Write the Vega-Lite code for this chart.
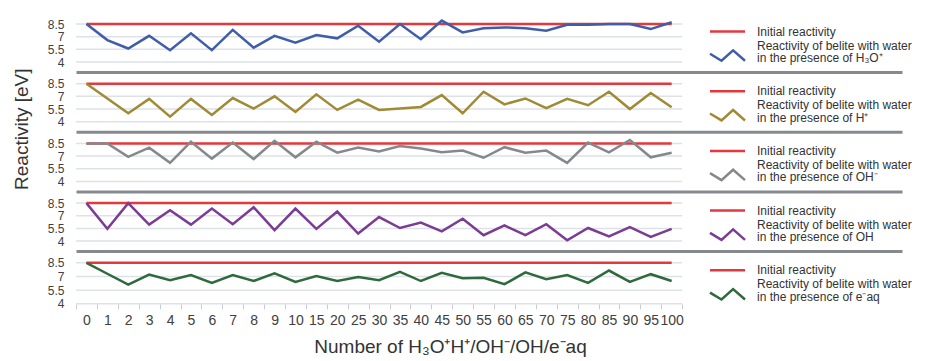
{
"$schema": "https://vega.github.io/schema/vega-lite/v6.json",
"padding": {"top": 15, "left": 12, "right": 0, "bottom": 0},
"background": "white",
"config": {
  "font": "Liberation Sans",
  "view": {"stroke": null},
  "line": {"strokeWidth": 2.5},
  "style": {"guide-label": {"lineHeight": 12.5}},
  "axisX": {"labels": false, "ticks": false, "domain": true, "domainColor": "#868a8f", "domainWidth": 3, "offset": 10, "grid": false},
  "axisY": {"grid": false, "domain": false, "ticks": false, "labelFontSize": 12, "labelColor": "#404040", "labelPadding": 12, "labelOverlap": false, "labelBound": false, "format": ".1~f"},
  "legend": {"symbolSize": 144, "symbolStrokeWidth": 3, "symbolOpacity": 1, "symbolType": "M-2.92,0L2.92,0", "symbolOffset": 10, "labelFontSize": 12, "labelLimit": 400, "rowPadding": 0, "padding": 0, "labelOffset": 22, "labelColor": "#333333"}
},
"resolve": {"scale": {"color": "independent", "shape": "independent"}, "legend": {"color": "independent", "shape": "independent"}},
"datasets": {
  "grid": [{"x":"0","o":"a","v":4},{"x":"100","o":"b","v":4},{"x":"0","o":"a","v":5.5},{"x":"100","o":"b","v":5.5},{"x":"0","o":"a","v":7},{"x":"100","o":"b","v":7},{"x":"0","o":"a","v":8.5},{"x":"100","o":"b","v":8.5}],
  "h3o": [
    {"x":"0","v":8.5,"s":"Initial reactivity"},{"x":"100","v":8.5,"s":"Initial reactivity"},
    {"x":"0","v":8.5,"s":"H₃O⁺"},{"x":"1","v":6.6,"s":"H₃O⁺"},{"x":"2","v":5.6,"s":"H₃O⁺"},{"x":"3","v":7.1,"s":"H₃O⁺"},{"x":"4","v":5.4,"s":"H₃O⁺"},{"x":"5","v":7.4,"s":"H₃O⁺"},{"x":"6","v":5.4,"s":"H₃O⁺"},{"x":"7","v":7.8,"s":"H₃O⁺"},{"x":"8","v":5.7,"s":"H₃O⁺"},{"x":"9","v":7.1,"s":"H₃O⁺"},{"x":"10","v":6.3,"s":"H₃O⁺"},{"x":"15","v":7.2,"s":"H₃O⁺"},{"x":"20","v":6.8,"s":"H₃O⁺"},{"x":"25","v":8.3,"s":"H₃O⁺"},{"x":"30","v":6.4,"s":"H₃O⁺"},{"x":"35","v":8.5,"s":"H₃O⁺"},{"x":"40","v":6.7,"s":"H₃O⁺"},{"x":"45","v":8.9,"s":"H₃O⁺"},{"x":"50","v":7.5,"s":"H₃O⁺"},{"x":"55","v":8.0,"s":"H₃O⁺"},{"x":"60","v":8.1,"s":"H₃O⁺"},{"x":"65","v":8.0,"s":"H₃O⁺"},{"x":"70","v":7.7,"s":"H₃O⁺"},{"x":"75","v":8.4,"s":"H₃O⁺"},{"x":"80","v":8.4,"s":"H₃O⁺"},{"x":"85","v":8.5,"s":"H₃O⁺"},{"x":"90","v":8.5,"s":"H₃O⁺"},{"x":"95","v":7.9,"s":"H₃O⁺"},{"x":"100","v":8.7,"s":"H₃O⁺"}
  ],
  "h": [
    {"x":"0","v":8.5,"s":"Initial reactivity"},{"x":"100","v":8.5,"s":"Initial reactivity"},
    {"x":"0","v":8.5,"s":"H⁺"},{"x":"1","v":6.75,"s":"H⁺"},{"x":"2","v":5.0,"s":"H⁺"},{"x":"3","v":6.7,"s":"H⁺"},{"x":"4","v":4.6,"s":"H⁺"},{"x":"5","v":6.7,"s":"H⁺"},{"x":"6","v":4.8,"s":"H⁺"},{"x":"7","v":6.8,"s":"H⁺"},{"x":"8","v":5.55,"s":"H⁺"},{"x":"9","v":7.0,"s":"H⁺"},{"x":"10","v":5.15,"s":"H⁺"},{"x":"15","v":7.25,"s":"H⁺"},{"x":"20","v":5.4,"s":"H⁺"},{"x":"25","v":6.6,"s":"H⁺"},{"x":"30","v":5.4,"s":"H⁺"},{"x":"35","v":5.55,"s":"H⁺"},{"x":"40","v":5.75,"s":"H⁺"},{"x":"45","v":7.15,"s":"H⁺"},{"x":"50","v":5.0,"s":"H⁺"},{"x":"55","v":7.55,"s":"H⁺"},{"x":"60","v":6.05,"s":"H⁺"},{"x":"65","v":6.75,"s":"H⁺"},{"x":"70","v":5.6,"s":"H⁺"},{"x":"75","v":6.7,"s":"H⁺"},{"x":"80","v":5.95,"s":"H⁺"},{"x":"85","v":7.55,"s":"H⁺"},{"x":"90","v":5.5,"s":"H⁺"},{"x":"95","v":7.4,"s":"H⁺"},{"x":"100","v":5.7,"s":"H⁺"}
  ],
  "ohm": [
    {"x":"0","v":8.5,"s":"Initial reactivity"},{"x":"100","v":8.5,"s":"Initial reactivity"},
    {"x":"0","v":8.5,"s":"OH⁻"},{"x":"1","v":8.5,"s":"OH⁻"},{"x":"2","v":6.9,"s":"OH⁻"},{"x":"3","v":8.0,"s":"OH⁻"},{"x":"4","v":6.2,"s":"OH⁻"},{"x":"5","v":8.7,"s":"OH⁻"},{"x":"6","v":6.7,"s":"OH⁻"},{"x":"7","v":8.6,"s":"OH⁻"},{"x":"8","v":6.65,"s":"OH⁻"},{"x":"9","v":8.8,"s":"OH⁻"},{"x":"10","v":6.85,"s":"OH⁻"},{"x":"15","v":8.7,"s":"OH⁻"},{"x":"20","v":7.4,"s":"OH⁻"},{"x":"25","v":8.0,"s":"OH⁻"},{"x":"30","v":7.55,"s":"OH⁻"},{"x":"35","v":8.2,"s":"OH⁻"},{"x":"40","v":7.9,"s":"OH⁻"},{"x":"45","v":7.45,"s":"OH⁻"},{"x":"50","v":7.65,"s":"OH⁻"},{"x":"55","v":6.8,"s":"OH⁻"},{"x":"60","v":8.05,"s":"OH⁻"},{"x":"65","v":7.4,"s":"OH⁻"},{"x":"70","v":7.65,"s":"OH⁻"},{"x":"75","v":6.2,"s":"OH⁻"},{"x":"80","v":8.6,"s":"OH⁻"},{"x":"85","v":7.45,"s":"OH⁻"},{"x":"90","v":8.9,"s":"OH⁻"},{"x":"95","v":6.85,"s":"OH⁻"},{"x":"100","v":7.4,"s":"OH⁻"}
  ],
  "oh": [
    {"x":"0","v":8.5,"s":"Initial reactivity"},{"x":"100","v":8.5,"s":"Initial reactivity"},
    {"x":"0","v":8.5,"s":"OH"},{"x":"1","v":5.45,"s":"OH"},{"x":"2","v":8.5,"s":"OH"},{"x":"3","v":5.95,"s":"OH"},{"x":"4","v":7.65,"s":"OH"},{"x":"5","v":5.95,"s":"OH"},{"x":"6","v":7.85,"s":"OH"},{"x":"7","v":6.0,"s":"OH"},{"x":"8","v":8.0,"s":"OH"},{"x":"9","v":5.3,"s":"OH"},{"x":"10","v":7.85,"s":"OH"},{"x":"15","v":5.45,"s":"OH"},{"x":"20","v":7.5,"s":"OH"},{"x":"25","v":4.9,"s":"OH"},{"x":"30","v":6.85,"s":"OH"},{"x":"35","v":5.55,"s":"OH"},{"x":"40","v":6.2,"s":"OH"},{"x":"45","v":5.15,"s":"OH"},{"x":"50","v":6.65,"s":"OH"},{"x":"55","v":4.7,"s":"OH"},{"x":"60","v":5.85,"s":"OH"},{"x":"65","v":4.7,"s":"OH"},{"x":"70","v":6.0,"s":"OH"},{"x":"75","v":4.1,"s":"OH"},{"x":"80","v":5.55,"s":"OH"},{"x":"85","v":4.55,"s":"OH"},{"x":"90","v":5.65,"s":"OH"},{"x":"95","v":4.5,"s":"OH"},{"x":"100","v":5.45,"s":"OH"}
  ],
  "eaq": [
    {"x":"0","v":8.5,"s":"Initial reactivity"},{"x":"100","v":8.5,"s":"Initial reactivity"},
    {"x":"0","v":8.5,"s":"e⁻aq"},{"x":"1","v":7.3,"s":"e⁻aq"},{"x":"2","v":6.1,"s":"e⁻aq"},{"x":"3","v":7.2,"s":"e⁻aq"},{"x":"4","v":6.6,"s":"e⁻aq"},{"x":"5","v":7.15,"s":"e⁻aq"},{"x":"6","v":6.3,"s":"e⁻aq"},{"x":"7","v":7.15,"s":"e⁻aq"},{"x":"8","v":6.5,"s":"e⁻aq"},{"x":"9","v":7.35,"s":"e⁻aq"},{"x":"10","v":6.4,"s":"e⁻aq"},{"x":"15","v":7.05,"s":"e⁻aq"},{"x":"20","v":6.5,"s":"e⁻aq"},{"x":"25","v":6.95,"s":"e⁻aq"},{"x":"30","v":6.6,"s":"e⁻aq"},{"x":"35","v":7.5,"s":"e⁻aq"},{"x":"40","v":6.5,"s":"e⁻aq"},{"x":"45","v":7.4,"s":"e⁻aq"},{"x":"50","v":6.8,"s":"e⁻aq"},{"x":"55","v":6.85,"s":"e⁻aq"},{"x":"60","v":6.15,"s":"e⁻aq"},{"x":"65","v":7.45,"s":"e⁻aq"},{"x":"70","v":6.7,"s":"e⁻aq"},{"x":"75","v":7.15,"s":"e⁻aq"},{"x":"80","v":6.3,"s":"e⁻aq"},{"x":"85","v":7.65,"s":"e⁻aq"},{"x":"90","v":6.4,"s":"e⁻aq"},{"x":"95","v":7.25,"s":"e⁻aq"},{"x":"100","v":6.5,"s":"e⁻aq"}
  ]
},
"vconcat": [
  {
    "width": 826, "height": 38,
    "encoding": {
      "x": {"field": "x", "type": "ordinal", "bandPosition": 0.5, "title": null, "scale": {"type": "band", "domain": ["0","1","2","3","4","5","6","7","8","9","10","15","20","25","30","35","40","45","50","55","60","65","70","75","80","85","90","95","100","_a","_b","_c","_d","_e","_f","_g","_h","_i","_j"], "paddingInner": 0, "paddingOuter": 0.26, "align": 0, "round": false}},
      "y": {"field": "v", "type": "quantitative", "title": null, "scale": {"domain": [4, 8.5], "nice": false, "zero": false}, "axis": {"values": [4, 5.5, 7, 8.5]}}
    },
    "layer": [
      {"data": {"name": "grid"}, "mark": {"type": "line", "color": "#dde2e7", "strokeWidth": 1.5},
       "encoding": {"x": {"field": "x", "type": "ordinal", "bandPosition": 0, "title": null, "scale": {"type": "band", "domain": ["0","1","2","3","4","5","6","7","8","9","10","15","20","25","30","35","40","45","50","55","60","65","70","75","80","85","90","95","100","_a","_b","_c","_d","_e","_f","_g","_h","_i","_j"], "paddingInner": 0, "paddingOuter": 0.26, "align": 0, "round": false}},
         "xOffset": {"field": "o", "type": "nominal", "scale": {"type": "point", "padding": 0, "domain": ["a", "b"]}},
         "detail": {"field": "v", "type": "quantitative"}}},
      {"data": {"name": "h3o"}, "transform": [{"filter": "datum.s === 'Initial reactivity'"}], "mark": "line",
       "encoding": {"color": {"field": "s", "type": "nominal", "scale": {"domain": ["Initial reactivity", "H₃O⁺"], "range": ["#e3383d", "#3f5da9"]}}}},
      {"data": {"name": "h3o"}, "transform": [{"filter": "datum.s !== 'Initial reactivity'"}], "mark": "line",
       "encoding": {"color": {"field": "s", "type": "nominal", "scale": {"domain": ["Initial reactivity", "H₃O⁺"], "range": ["#e3383d", "#3f5da9"]}}}},
      {"data": {"name": "h3o"}, "mark": {"type": "point", "opacity": 0, "filled": false},
       "encoding": {
         "color": {"field": "s", "type": "nominal", "scale": {"domain": ["Initial reactivity", "H₃O⁺"], "range": ["#e3383d", "#3f5da9"]},
           "legend": {"title": null, "orient": "none", "legendX": 634, "legendY": 0, "labelExpr": "datum.value === 'Initial reactivity' ? 'Initial reactivity' : ['Reactivity of belite with water', 'in the presence of ' + datum.value]"}},
         "shape": {"field": "s", "type": "nominal", "scale": {"domain": ["Initial reactivity", "H₃O⁺"], "range": ["M-2.92,0L2.92,0", "M-2.92,1.38L-1,2.54L0.93,0.8L2.92,2.54"]},
           "legend": {"title": null, "orient": "none", "legendX": 634, "legendY": 0, "labelExpr": "datum.value === 'Initial reactivity' ? 'Initial reactivity' : ['Reactivity of belite with water', 'in the presence of ' + datum.value]"}}}}
    ]
  },
  {
    "width": 826, "height": 38,
    "encoding": {
      "x": {"field": "x", "type": "ordinal", "bandPosition": 0.5, "title": null, "scale": {"type": "band", "domain": ["0","1","2","3","4","5","6","7","8","9","10","15","20","25","30","35","40","45","50","55","60","65","70","75","80","85","90","95","100","_a","_b","_c","_d","_e","_f","_g","_h","_i","_j"], "paddingInner": 0, "paddingOuter": 0.26, "align": 0, "round": false}},
      "y": {"field": "v", "type": "quantitative", "title": null, "scale": {"domain": [4, 8.5], "nice": false, "zero": false}, "axis": {"values": [4, 5.5, 7, 8.5], "title": "Reactivity [eV]", "titleY": 45, "titleFontSize": 19, "titleFontWeight": "normal", "titleColor": "#333333", "titlePadding": 15.5}}
    },
    "layer": [
      {"data": {"name": "grid"}, "mark": {"type": "line", "color": "#dde2e7", "strokeWidth": 1.5},
       "encoding": {"x": {"field": "x", "type": "ordinal", "bandPosition": 0, "title": null, "scale": {"type": "band", "domain": ["0","1","2","3","4","5","6","7","8","9","10","15","20","25","30","35","40","45","50","55","60","65","70","75","80","85","90","95","100","_a","_b","_c","_d","_e","_f","_g","_h","_i","_j"], "paddingInner": 0, "paddingOuter": 0.26, "align": 0, "round": false}},
         "xOffset": {"field": "o", "type": "nominal", "scale": {"type": "point", "padding": 0, "domain": ["a", "b"]}},
         "detail": {"field": "v", "type": "quantitative"}}},
      {"data": {"name": "h"}, "transform": [{"filter": "datum.s === 'Initial reactivity'"}], "mark": "line",
       "encoding": {"color": {"field": "s", "type": "nominal", "scale": {"domain": ["Initial reactivity", "H⁺"], "range": ["#e3383d", "#a08a35"]}}}},
      {"data": {"name": "h"}, "transform": [{"filter": "datum.s !== 'Initial reactivity'"}], "mark": "line",
       "encoding": {"color": {"field": "s", "type": "nominal", "scale": {"domain": ["Initial reactivity", "H⁺"], "range": ["#e3383d", "#a08a35"]}}}},
      {"data": {"name": "h"}, "mark": {"type": "point", "opacity": 0, "filled": false},
       "encoding": {
         "color": {"field": "s", "type": "nominal", "scale": {"domain": ["Initial reactivity", "H⁺"], "range": ["#e3383d", "#a08a35"]},
           "legend": {"title": null, "orient": "none", "legendX": 634, "legendY": 0, "labelExpr": "datum.value === 'Initial reactivity' ? 'Initial reactivity' : ['Reactivity of belite with water', 'in the presence of ' + datum.value]"}},
         "shape": {"field": "s", "type": "nominal", "scale": {"domain": ["Initial reactivity", "H⁺"], "range": ["M-2.92,0L2.92,0", "M-2.92,1.38L-1,2.54L0.93,0.8L2.92,2.54"]},
           "legend": {"title": null, "orient": "none", "legendX": 634, "legendY": 0, "labelExpr": "datum.value === 'Initial reactivity' ? 'Initial reactivity' : ['Reactivity of belite with water', 'in the presence of ' + datum.value]"}}}}
    ]
  },
  {
    "width": 826, "height": 38,
    "encoding": {
      "x": {"field": "x", "type": "ordinal", "bandPosition": 0.5, "title": null, "scale": {"type": "band", "domain": ["0","1","2","3","4","5","6","7","8","9","10","15","20","25","30","35","40","45","50","55","60","65","70","75","80","85","90","95","100","_a","_b","_c","_d","_e","_f","_g","_h","_i","_j"], "paddingInner": 0, "paddingOuter": 0.26, "align": 0, "round": false}},
      "y": {"field": "v", "type": "quantitative", "title": null, "scale": {"domain": [4, 8.5], "nice": false, "zero": false}, "axis": {"values": [4, 5.5, 7, 8.5]}}
    },
    "layer": [
      {"data": {"name": "grid"}, "mark": {"type": "line", "color": "#dde2e7", "strokeWidth": 1.5},
       "encoding": {"x": {"field": "x", "type": "ordinal", "bandPosition": 0, "title": null, "scale": {"type": "band", "domain": ["0","1","2","3","4","5","6","7","8","9","10","15","20","25","30","35","40","45","50","55","60","65","70","75","80","85","90","95","100","_a","_b","_c","_d","_e","_f","_g","_h","_i","_j"], "paddingInner": 0, "paddingOuter": 0.26, "align": 0, "round": false}},
         "xOffset": {"field": "o", "type": "nominal", "scale": {"type": "point", "padding": 0, "domain": ["a", "b"]}},
         "detail": {"field": "v", "type": "quantitative"}}},
      {"data": {"name": "ohm"}, "transform": [{"filter": "datum.s === 'Initial reactivity'"}], "mark": "line",
       "encoding": {"color": {"field": "s", "type": "nominal", "scale": {"domain": ["Initial reactivity", "OH⁻"], "range": ["#e3383d", "#85898c"]}}}},
      {"data": {"name": "ohm"}, "transform": [{"filter": "datum.s !== 'Initial reactivity'"}], "mark": "line",
       "encoding": {"color": {"field": "s", "type": "nominal", "scale": {"domain": ["Initial reactivity", "OH⁻"], "range": ["#e3383d", "#85898c"]}}}},
      {"data": {"name": "ohm"}, "mark": {"type": "point", "opacity": 0, "filled": false},
       "encoding": {
         "color": {"field": "s", "type": "nominal", "scale": {"domain": ["Initial reactivity", "OH⁻"], "range": ["#e3383d", "#85898c"]},
           "legend": {"title": null, "orient": "none", "legendX": 634, "legendY": 0, "labelExpr": "datum.value === 'Initial reactivity' ? 'Initial reactivity' : ['Reactivity of belite with water', 'in the presence of ' + datum.value]"}},
         "shape": {"field": "s", "type": "nominal", "scale": {"domain": ["Initial reactivity", "OH⁻"], "range": ["M-2.92,0L2.92,0", "M-2.92,1.38L-1,2.54L0.93,0.8L2.92,2.54"]},
           "legend": {"title": null, "orient": "none", "legendX": 634, "legendY": 0, "labelExpr": "datum.value === 'Initial reactivity' ? 'Initial reactivity' : ['Reactivity of belite with water', 'in the presence of ' + datum.value]"}}}}
    ]
  },
  {
    "width": 826, "height": 38,
    "encoding": {
      "x": {"field": "x", "type": "ordinal", "bandPosition": 0.5, "title": null, "scale": {"type": "band", "domain": ["0","1","2","3","4","5","6","7","8","9","10","15","20","25","30","35","40","45","50","55","60","65","70","75","80","85","90","95","100","_a","_b","_c","_d","_e","_f","_g","_h","_i","_j"], "paddingInner": 0, "paddingOuter": 0.26, "align": 0, "round": false}},
      "y": {"field": "v", "type": "quantitative", "title": null, "scale": {"domain": [4, 8.5], "nice": false, "zero": false}, "axis": {"values": [4, 5.5, 7, 8.5]}}
    },
    "layer": [
      {"data": {"name": "grid"}, "mark": {"type": "line", "color": "#dde2e7", "strokeWidth": 1.5},
       "encoding": {"x": {"field": "x", "type": "ordinal", "bandPosition": 0, "title": null, "scale": {"type": "band", "domain": ["0","1","2","3","4","5","6","7","8","9","10","15","20","25","30","35","40","45","50","55","60","65","70","75","80","85","90","95","100","_a","_b","_c","_d","_e","_f","_g","_h","_i","_j"], "paddingInner": 0, "paddingOuter": 0.26, "align": 0, "round": false}},
         "xOffset": {"field": "o", "type": "nominal", "scale": {"type": "point", "padding": 0, "domain": ["a", "b"]}},
         "detail": {"field": "v", "type": "quantitative"}}},
      {"data": {"name": "oh"}, "transform": [{"filter": "datum.s === 'Initial reactivity'"}], "mark": "line",
       "encoding": {"color": {"field": "s", "type": "nominal", "scale": {"domain": ["Initial reactivity", "OH"], "range": ["#e3383d", "#7b3c93"]}}}},
      {"data": {"name": "oh"}, "transform": [{"filter": "datum.s !== 'Initial reactivity'"}], "mark": "line",
       "encoding": {"color": {"field": "s", "type": "nominal", "scale": {"domain": ["Initial reactivity", "OH"], "range": ["#e3383d", "#7b3c93"]}}}},
      {"data": {"name": "oh"}, "mark": {"type": "point", "opacity": 0, "filled": false},
       "encoding": {
         "color": {"field": "s", "type": "nominal", "scale": {"domain": ["Initial reactivity", "OH"], "range": ["#e3383d", "#7b3c93"]},
           "legend": {"title": null, "orient": "none", "legendX": 634, "legendY": 0, "labelExpr": "datum.value === 'Initial reactivity' ? 'Initial reactivity' : ['Reactivity of belite with water', 'in the presence of ' + datum.value]"}},
         "shape": {"field": "s", "type": "nominal", "scale": {"domain": ["Initial reactivity", "OH"], "range": ["M-2.92,0L2.92,0", "M-2.92,1.38L-1,2.54L0.93,0.8L2.92,2.54"]},
           "legend": {"title": null, "orient": "none", "legendX": 634, "legendY": 0, "labelExpr": "datum.value === 'Initial reactivity' ? 'Initial reactivity' : ['Reactivity of belite with water', 'in the presence of ' + datum.value]"}}}}
    ]
  },
  {
    "width": 826, "height": 41,
    "encoding": {
      "x": {"field": "x", "type": "ordinal", "bandPosition": 0.5, "title": null, "scale": {"type": "band", "domain": ["0","1","2","3","4","5","6","7","8","9","10","15","20","25","30","35","40","45","50","55","60","65","70","75","80","85","90","95","100","_a","_b","_c","_d","_e","_f","_g","_h","_i","_j"], "paddingInner": 0, "paddingOuter": 0.26, "align": 0, "round": false},
        "axis": {"values": ["0","1","2","3","4","5","6","7","8","9","10","15","20","25","30","35","40","45","50","55","60","65","70","75","80","85","90","95","100"], "labels": true, "ticks": true, "tickBand": "extent", "domain": false, "offset": 0, "tickColor": "#c8ccd0", "tickSize": 5, "tickWidth": 1, "labelFontSize": 14, "labelColor": "#404040", "labelPadding": 5, "labelAngle": 0, "title": "Number of H₃O⁺H⁺/OH⁻/OH/e⁻aq", "titleFontSize": 19, "titleFontWeight": "normal", "titleColor": "#333333", "titleX": 374, "titlePadding": 10}},
      "y": {"field": "v", "type": "quantitative", "title": null, "scale": {"domain": [4, 8.5], "nice": false, "zero": false}, "axis": {"values": [4, 5.5, 7, 8.5]}}
    },
    "layer": [
      {"data": {"name": "grid"}, "mark": {"type": "line", "color": "#dde2e7", "strokeWidth": 1.5},
       "encoding": {"x": {"field": "x", "type": "ordinal", "bandPosition": 0, "title": null, "scale": {"type": "band", "domain": ["0","1","2","3","4","5","6","7","8","9","10","15","20","25","30","35","40","45","50","55","60","65","70","75","80","85","90","95","100","_a","_b","_c","_d","_e","_f","_g","_h","_i","_j"], "paddingInner": 0, "paddingOuter": 0.26, "align": 0, "round": false},
          "axis": {"values": ["0","1","2","3","4","5","6","7","8","9","10","15","20","25","30","35","40","45","50","55","60","65","70","75","80","85","90","95","100"], "labels": true, "ticks": true, "tickBand": "extent", "domain": false, "offset": 0, "tickColor": "#c8ccd0", "tickSize": 5, "tickWidth": 1, "labelFontSize": 14, "labelColor": "#404040", "labelPadding": 5, "labelAngle": 0, "title": "Number of H₃O⁺H⁺/OH⁻/OH/e⁻aq", "titleFontSize": 19, "titleFontWeight": "normal", "titleColor": "#333333", "titleX": 374, "titlePadding": 10}},
         "xOffset": {"field": "o", "type": "nominal", "scale": {"type": "point", "padding": 0, "domain": ["a", "b"]}},
         "detail": {"field": "v", "type": "quantitative"}}},
      {"data": {"name": "eaq"}, "transform": [{"filter": "datum.s === 'Initial reactivity'"}], "mark": "line",
       "encoding": {"color": {"field": "s", "type": "nominal", "scale": {"domain": ["Initial reactivity", "e⁻aq"], "range": ["#e3383d", "#2f6a3c"]}}}},
      {"data": {"name": "eaq"}, "transform": [{"filter": "datum.s !== 'Initial reactivity'"}], "mark": "line",
       "encoding": {"color": {"field": "s", "type": "nominal", "scale": {"domain": ["Initial reactivity", "e⁻aq"], "range": ["#e3383d", "#2f6a3c"]}}}},
      {"data": {"name": "eaq"}, "mark": {"type": "point", "opacity": 0, "filled": false},
       "encoding": {
         "color": {"field": "s", "type": "nominal", "scale": {"domain": ["Initial reactivity", "e⁻aq"], "range": ["#e3383d", "#2f6a3c"]},
           "legend": {"title": null, "orient": "none", "legendX": 634, "legendY": 0, "labelExpr": "datum.value === 'Initial reactivity' ? 'Initial reactivity' : ['Reactivity of belite with water', 'in the presence of ' + datum.value]"}},
         "shape": {"field": "s", "type": "nominal", "scale": {"domain": ["Initial reactivity", "e⁻aq"], "range": ["M-2.92,0L2.92,0", "M-2.92,1.38L-1,2.54L0.93,0.8L2.92,2.54"]},
           "legend": {"title": null, "orient": "none", "legendX": 634, "legendY": 0, "labelExpr": "datum.value === 'Initial reactivity' ? 'Initial reactivity' : ['Reactivity of belite with water', 'in the presence of ' + datum.value]"}}}}
    ]
  }
],
"spacing": 21.7,
"bounds": "flush"
}
